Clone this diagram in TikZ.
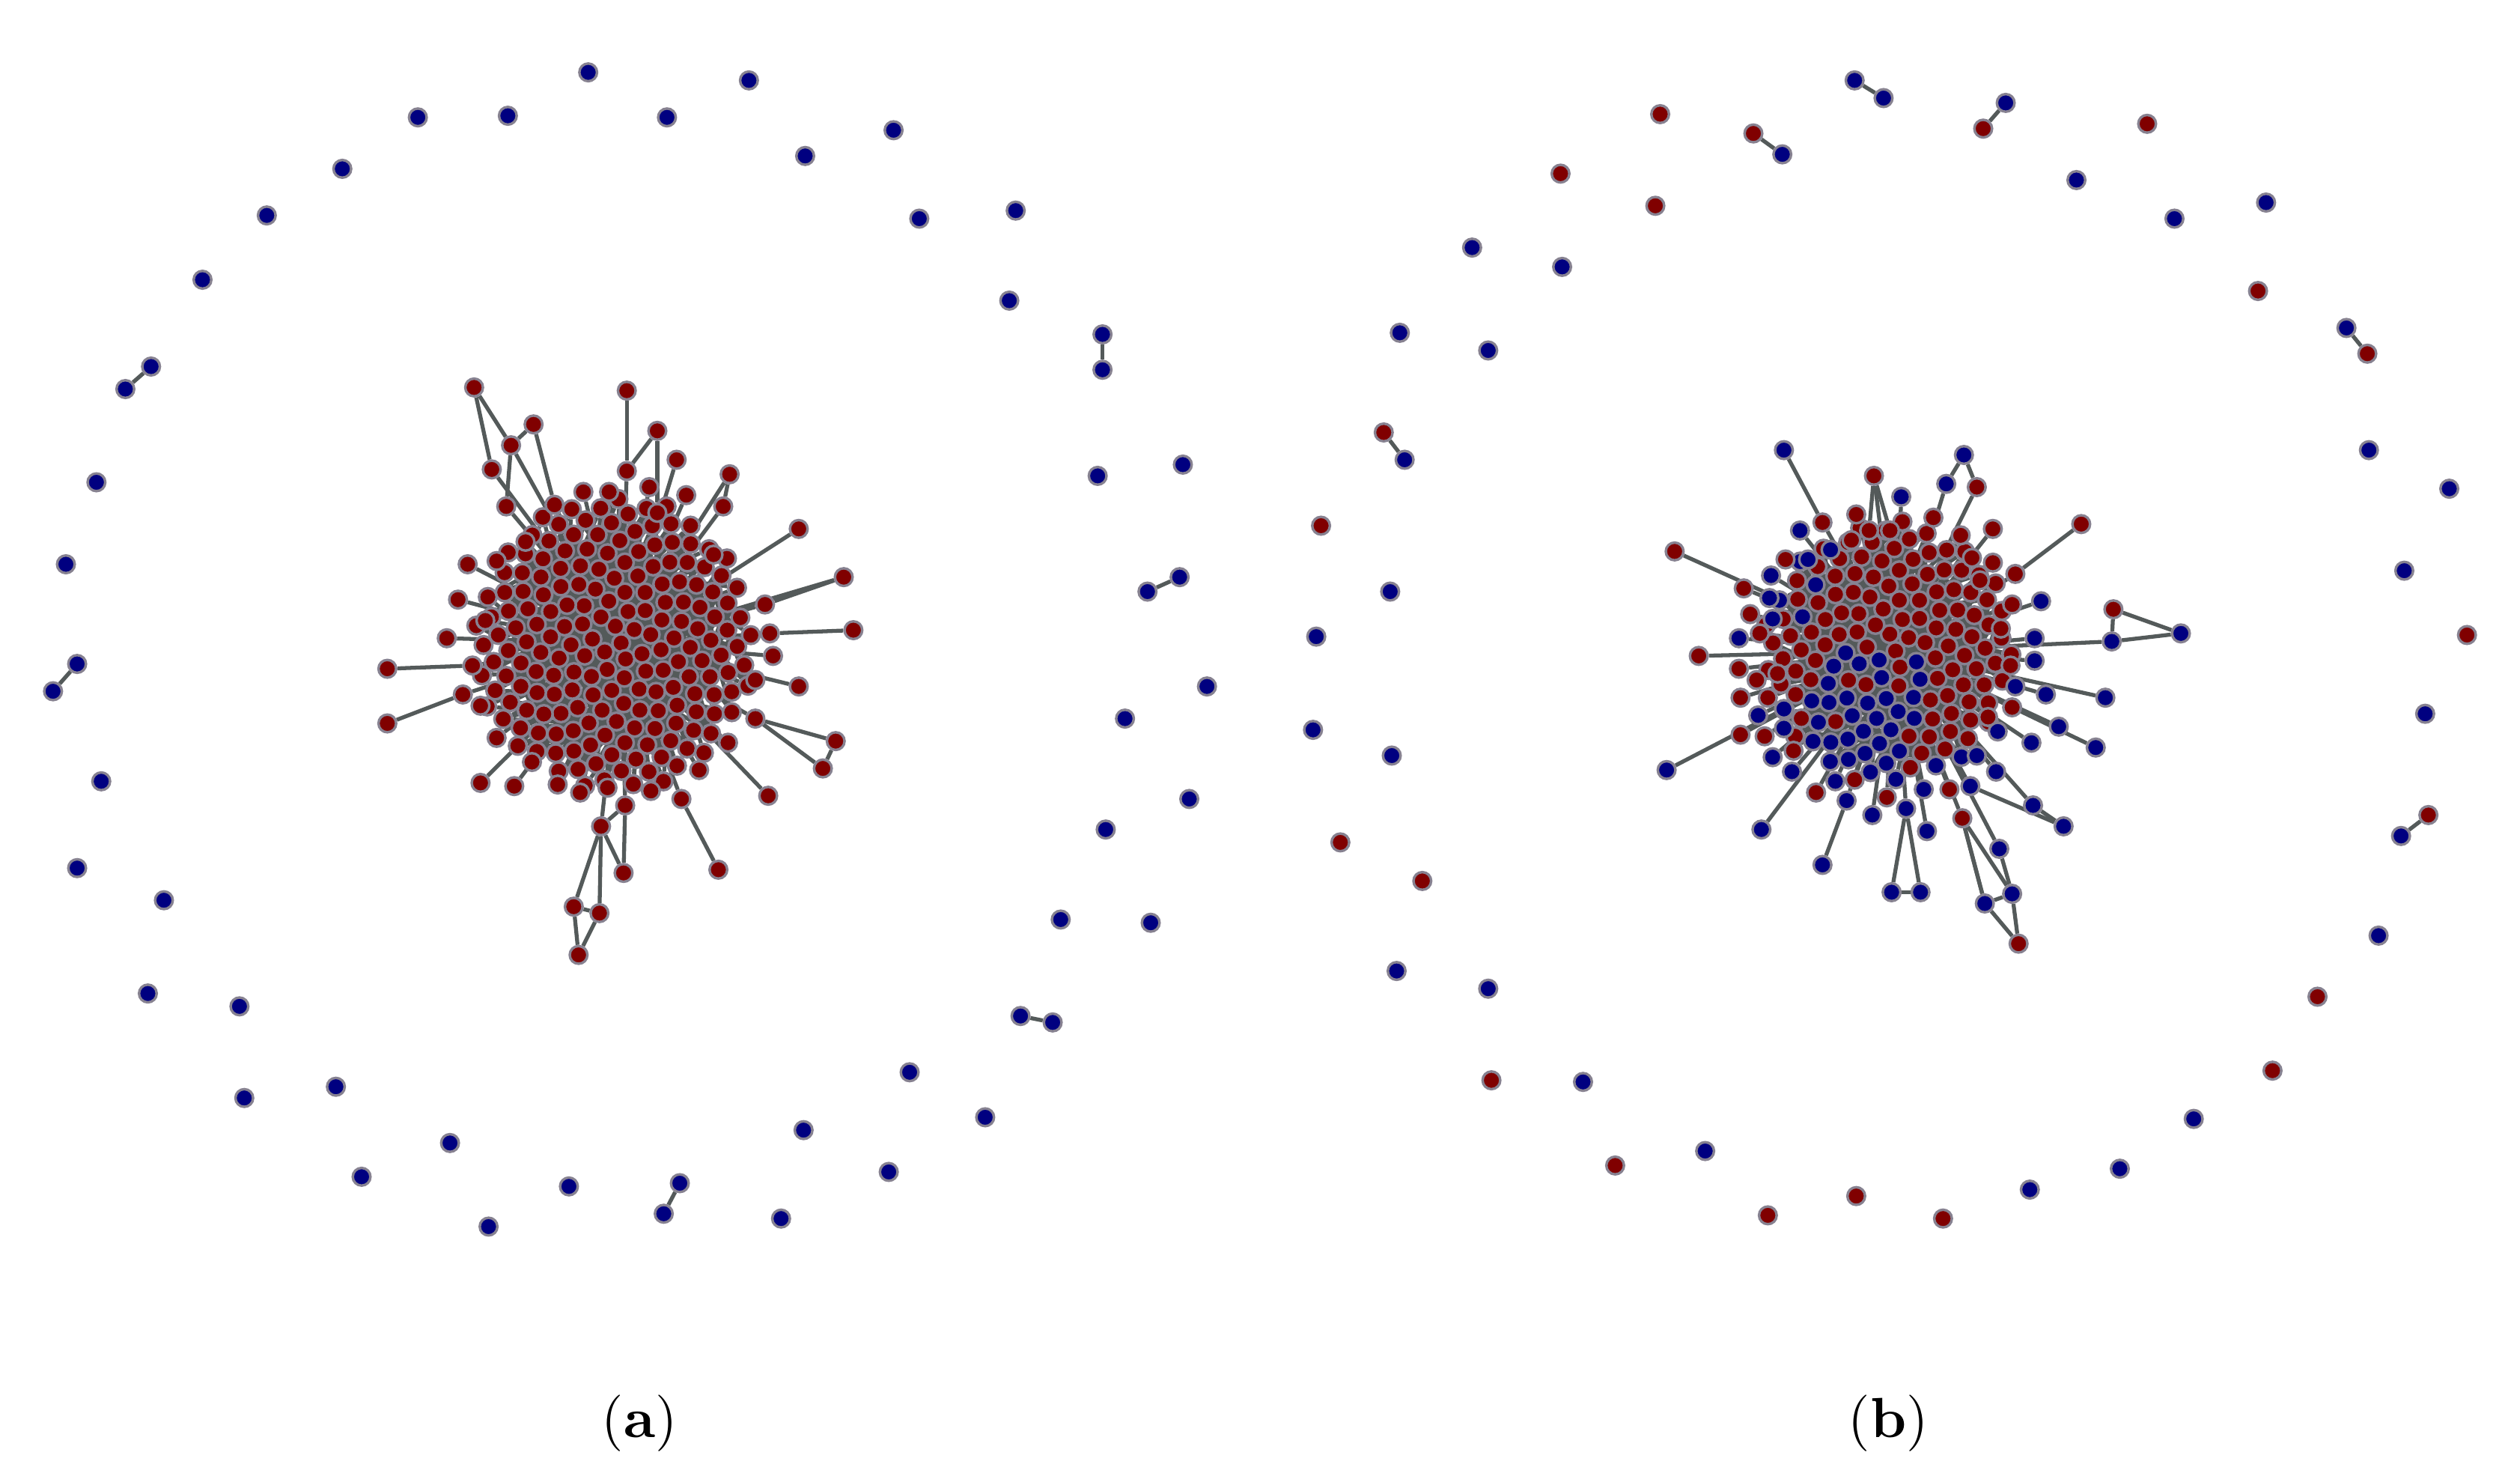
\documentclass[tikz,border=0pt]{standalone}
\usetikzlibrary{shapes.geometric,backgrounds}
\definecolor{nred}{RGB}{128,0,0}
\definecolor{nblue}{RGB}{0,0,128}
\definecolor{nborder}{RGB}{135,130,145}
\definecolor{edgec}{RGB}{84,90,90}
\tikzset{
  nd/.style={circle, minimum size=0.11cm, inner sep=0pt, draw=nborder, line width=0.45pt},
  rn/.style={nd, fill=nred},
  bn/.style={nd, fill=nblue},
  lnk/.style={draw=edgec, line width=0.7pt},
  captxt/.style={font=\fontsize{10}{12}\selectfont, anchor=base, inner sep=0pt}
}
\def\PA{u1/295/241/u2, u2/318/277/a0, u3/332/264/u4, u4/345/314/a0, u5/306/292/a0, u6/315/315/a0, u7/390/243/u8, u8/390/293/a0, u9/409/268/u14, u10/421/286/a0, u11/404/303/a0, u12/427/308/a0, u13/454/295/u15, u14/409/319/a0, u15/450/315/a0, u16/363/306/a0, u17/379/306/a0, u18/497/329/a0, u19/444/345/a0, u20/525/359/u21, u21/476/376/a0, u22/531/392/u23, u23/479/394/a0, u24/481/408/a0, u25/497/427/a0, u26/470/423/a0, u27/520/461/u29, u28/512/478/u29, u29/470/447/a0, u30/478/495/a0, u31/453/462/a0, u32/447/541/u33, u33/424/497/a0, u34/435/479/a0, u35/405/492/a0, u36/241/416/u53, u37/241/450/u38, u38/288/432/a0, u39/299/439/a0, u40/278/397/a0, u41/285/373/a0, u42/291/351/a0, u43/302/386/a0, u44/309/349/a0, u45/299/487/a0, u46/320/489/a0, u47/309/459/a0, u48/331/474/a0, u49/347/488/a0, u50/361/493/a0, u51/378/490/a0, u52/389/501/a0, u53/294/414/a0, u54/374/514/a0, u55/388/543/u52, u56/357/564/u54, u57/373/568/u54, u58/360/594/u56, u59/327/337/a0}
\def\PB{v1/1110/280/bn/v2, v2/1134/325/rn/b0, v3/1166/296/rn/b0, v4/1183/309/bn/b0, v5/1222/283/bn/v6, v6/1211/301/bn/b0, v7/1230/303/rn/b0, v8/1295/326/rn/v9, v9/1254/357/rn/b0, v10/1315/379/rn/v11, v11/1314/399/bn/b0, v12/1357/394/bn/v11, v13/1310/434/bn/b0, v14/1304/465/bn/b0, v15/1284/514/bn/v16, v16/1265/501/bn/b0, v17/1281/452/bn/b0, v18/1264/462/bn/b0, v19/1273/432/bn/b0, v20/1266/397/bn/b0, v21/1266/411/bn/b0, v22/1270/374/bn/b0, v23/1256/587/rn/v24, v24/1235/562/bn/v26, v25/1252/556/bn/v27, v26/1221/509/rn/b0, v27/1244/528/bn/b0, v28/1177/555/bn/v30, v29/1195/555/bn/v30, v30/1186/503/bn/b0, v31/1199/517/bn/b0, v32/1134/538/bn/v33, v33/1149/498/bn/b0, v34/1096/516/bn/b0, v35/1165/507/bn/b0, v36/1057/408/rn/b0, v37/1082/397/bn/b0, v38/1085/366/rn/b0, v39/1120/330/bn/b0, v40/1102/358/bn/b0, v41/1101/372/bn/b0, v42/1103/385/bn/b0, v43/1094/445/bn/b0, v44/1103/471/bn/b0, v45/1115/480/bn/b0, v46/1083/457/rn/b0, v47/1240/329/rn/b0, v48/1240/350/rn/b0, v49/1242/480/bn/b0, v50/1042/343/rn/b0, v51/1037/479/bn/b0, v52/1111/348/rn/b0, v53/1089/382/rn/b0, v54/1095/394/rn/b0, v55/1082/416/rn/b0, v56/1093/423/rn/b0, v57/1083/434/rn/b0, v58/1098/458/rn/b0, v59/1116/467/rn/b0, v60/1130/493/rn/b0, v61/1142/486/bn/b0, v62/1154/485/rn/b0, v63/1174/496/rn/b0, v64/1197/491/bn/b0, v65/1213/491/rn/b0, v66/1226/489/bn/b0, v67/1230/470/bn/b0, v68/1243/455/bn/b0, v69/1237/446/rn/b0, v70/1252/440/rn/b0, v71/1254/427/bn/b0, v72/1251/414/rn/b0, v73/1245/391/rn/b0, v74/1252/376/rn/b0, v75/1232/361/rn/b0, v76/1220/333/rn/b0, v77/1227/347/rn/b0, v78/1203/322/rn/b0, v79/1155/320/rn/b0, v80/1152/336/rn/b0, v81/1163/330/rn/b0, v82/1176/330/rn/b0, v83/1139/342/bn/b0, v84/1125/348/bn/b0, v85/1106/419/rn/b0, v86/1100/434/rn/b0, v87/1110/441/bn/b0, v88/1110/453/bn/b0}
\def\RA{o1/366/45, o2/466/50, o3/316/72, o4/260/73, o5/415/73, o6/556/81, o7/213/105, o8/501/97, o9/166/134, o10/572/136, o11/632/131, o12/126/174, o13/628/187, o14/686/208, o15/686/230, o16/94/228, o17/78/242, o18/60/300, o19/683/296, o20/736/289, o21/41/351, o22/734/359, o23/714/368, o24/48/413, o25/33/430, o26/751/427, o27/700/447, o28/63/486, o29/740/497, o30/48/540, o31/688/516, o32/102/560, o33/660/572, o34/716/574, o35/92/618, o36/149/626, o37/635/632, o38/655/636, o39/152/683, o40/209/676, o41/566/667, o42/613/695, o43/225/732, o44/280/711, o45/500/703, o46/553/729, o47/354/738, o48/423/736, o49/413/755, o50/486/758, o51/304/763}
\def\RB{q1/1154/50/bn, q2/1172/61/bn, q3/1033/71/rn, q4/1091/83/rn, q5/1109/96/bn, q6/1248/64/bn, q7/1234/80/rn, q8/1336/77/rn, q9/971/108/rn, q10/1030/128/rn, q11/1292/112/bn, q12/1410/126/bn, q13/1353/136/bn, q14/916/154/bn, q15/972/166/bn, q16/1405/181/rn, q17/871/207/bn, q18/926/218/bn, q19/1460/204/bn, q20/1473/220/rn, q21/861/269/rn, q22/874/286/bn, q23/1474/280/bn, q24/1524/304/bn, q25/822/327/rn, q26/1496/355/bn, q27/865/368/bn, q28/1535/395/rn, q29/819/396/bn, q30/1509/444/bn, q31/817/454/bn, q32/866/470/bn, q33/1511/507/rn, q34/1494/520/bn, q35/834/524/rn, q36/885/548/rn, q37/1480/582/bn, q38/869/604/bn, q39/926/615/bn, q40/1442/620/rn, q41/928/672/rn, q42/985/673/bn, q43/1414/666/rn, q44/1365/696/bn, q45/1005/725/rn, q46/1061/716/bn, q47/1319/727/bn, q48/1100/756/rn, q49/1155/744/rn, q50/1209/758/rn, q51/1263/740/bn}
\begin{document}
\begin{tikzpicture}[x=0.01cm, y=-0.01cm]
\useasboundingbox (0,0) rectangle (1568,920);
% ---------- panel (a): core ----------
\foreach \i in {0,...,189}{
  \pgfmathsetmacro\rad{sqrt((\i+0.5)/190)}
  \pgfmathsetmacro\ang{360*(\i*0.381966-floor(\i*0.381966))}
  \node[rn] (a\i) at ({382+88*\rad*cos(\ang)},{400+92*\rad*sin(\ang)}) {};
}
\foreach \nm/\x/\y/\tg in \PA { \node[rn] (\nm) at (\x,\y) {}; }
\foreach \nm/\x/\y in \RA { \node[bn] (\nm) at (\x,\y) {}; }
% ---------- panel (b): core ----------
\foreach \i in {0,...,149}{
  \pgfmathsetmacro\rad{sqrt((\i+0.5)/150)}
  \pgfmathsetmacro\ang{360*(\i*0.381966-floor(\i*0.381966))}
  \pgfmathsetmacro\dx{78*\rad*cos(\ang)}
  \pgfmathsetmacro\dy{82*\rad*sin(\ang)}
  \pgfmathtruncatemacro\hh{mod(\i*37,11)}
  \pgfmathtruncatemacro\rg{((\dx<20)&&(\dy>0)&&(\dx>-45)) || (\dy>65)}
  \pgfmathtruncatemacro\bb{((\rg==1)&&(\hh>1)) || ((\rg==0)&&(\hh<2)&&(\dx<-40))}
  \ifnum\bb=1 \def\st{bn}\else\def\st{rn}\fi
  \node[\st] (b\i) at ({1175+\dx},{405+\dy}) {};
}
\foreach \nm/\x/\y/\st/\tg in \PB { \node[\st] (\nm) at (\x,\y) {}; }
\foreach \nm/\x/\y/\st in \RB { \node[\st] (\nm) at (\x,\y) {}; }
% ---------- connectors ----------
\begin{pgfonlayer}{background}
  \foreach \i in {1,...,189}{
    \pgfmathtruncatemacro\ja{\i*0.37}
    \pgfmathtruncatemacro\kb{\i*0.62}
    \pgfmathtruncatemacro\lc{\i*0.18}
    \draw[lnk] (a\i) -- (a\ja);
    \ifnum\i>4 \draw[lnk] (a\i) -- (a\kb); \fi
    \ifnum\i>20 \draw[lnk] (a\i) -- (a\lc); \fi
  }
  \foreach \i in {1,...,149}{
    \pgfmathtruncatemacro\ja{\i*0.37}
    \pgfmathtruncatemacro\kb{\i*0.62}
    \pgfmathtruncatemacro\lc{\i*0.18}
    \draw[lnk] (b\i) -- (b\ja);
    \ifnum\i>4 \draw[lnk] (b\i) -- (b\kb); \fi
    \ifnum\i>20 \draw[lnk] (b\i) -- (b\lc); \fi
  }
  \foreach \nm/\x/\y/\tg in \PA { \draw[lnk] (\nm) -- (\tg); }
  \foreach \nm/\x/\y/\st/\tg in \PB { \draw[lnk] (\nm) -- (\tg); }
  \foreach \p/\q in {u3/u2, u2/u6, u13/a0, u9/u8, u27/u28, u54/u55, u54/u52, u56/u57, u57/u58, u20/a0, u1/u5,
                     v5/v7, v26/v24, v26/v25, v23/v25, v24/v25, v28/v29, v3/v81, v3/v82, v15/v66, v10/v12,
                     o14/o15, o16/o17, o22/o23, o24/o25, o37/o38, o48/o49,
                     q1/q2, q4/q5, q6/q7, q19/q20, q21/q22, q33/q34}
    { \draw[lnk] (\p) -- (\q); }
\end{pgfonlayer}
% ---------- captions ----------
\node[captxt] (capa) at (398,894) {(\textbf{a})};
\node[captxt] (capb) at (1175,894) {(\textbf{b})};
\end{tikzpicture}
\end{document}
